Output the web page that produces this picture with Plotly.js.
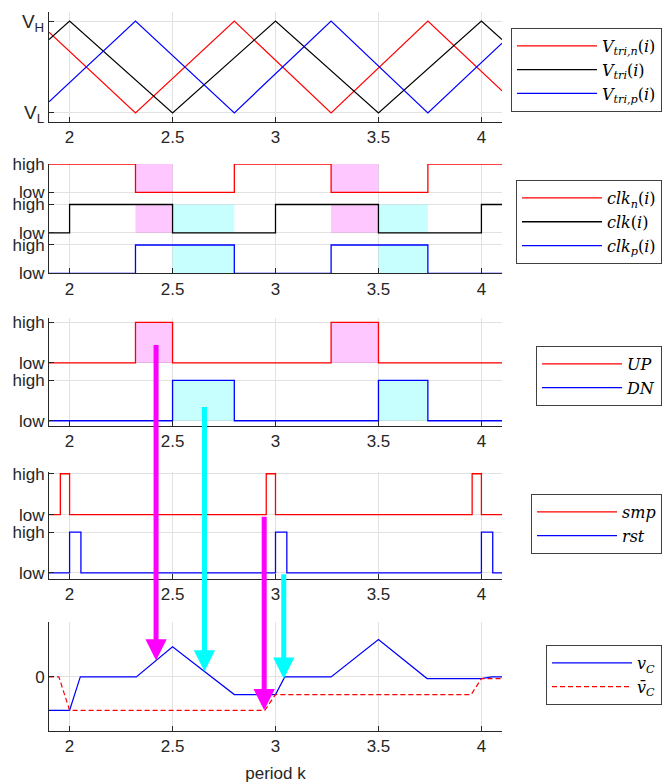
<!DOCTYPE html>
<html><head><meta charset="utf-8">
<script src="https://cdn.plot.ly/plotly-3.0.1.min.js"></script>
<style>html,body{margin:0;padding:0;background:#fff}</style>
</head><body><div id="chart" style="width:665px;height:783px"></div>
<script>
// ---------- data ----------
const xRange = [1.9, 4.1];
const xTickVals = [2, 2.5, 3, 3.5, 4];
const xTickText = ['2', '2.5', '3', '3.5', '4'];
const levelText = ['low', 'high'];
const triTickText = ['V<sub>L</sub>', 'V<sub>H</sub>'];

// panel 1: triangle carriers (0 = V_L, 1 = V_H)
const triX  = [1.9, 2.0, 2.5, 3.0, 3.5, 4.0, 4.1];
const triY  = [0.8, 1, 0, 1, 0, 1, 0.8];
const triNX = [1.9, 2.32, 2.80, 3.27, 3.74, 4.1];
const triNY = [0.88, 0, 1, 0, 1, 0.24];
const triPX = [1.9, 2.32, 2.80, 3.27, 3.74, 4.1];
const triPY = [0.12, 1, 0, 1, 0, 0.76];

// panel 2: clocks (0 = low, 1 = high)
const clkNX = [1.9, 2.32, 2.80, 3.27, 3.74, 4.1];
const clkNY = [1, 0, 1, 0, 1, 1];
const clkX  = [1.9, 2.0, 2.5, 3.0, 3.5, 4.0, 4.1];
const clkY  = [0, 1, 0, 1, 0, 1, 1];
const clkPX = [1.9, 2.32, 2.80, 3.27, 3.74, 4.1];
const clkPY = [0, 1, 0, 1, 0, 0];

// panel 3: UP / DN
const upX = [1.9, 2.32, 2.5, 3.27, 3.5, 4.1];
const upY = [0, 1, 0, 1, 0, 0];
const dnX = [1.9, 2.5, 2.8, 3.5, 3.74, 4.1];
const dnY = [0, 1, 0, 1, 0, 0];

// panel 4: smp / rst
const smpX = [1.9, 1.955, 2.0, 2.955, 3.0, 3.955, 4.0, 4.1];
const smpY = [0, 1, 0, 1, 0, 1, 0, 0];
const rstX = [1.9, 2.0, 2.055, 3.0, 3.055, 4.0, 4.055, 4.1];
const rstY = [0, 1, 0, 1, 0, 1, 0, 0];

// panel 5: capacitor voltage and its sampled value
const vcX = [1.9, 2.0, 2.052, 2.324, 2.5, 2.8, 3.0, 3.045, 3.27, 3.5, 3.736, 4.0, 4.05, 4.1];
const vcY = [-1, -1, 0, 0, 0.9, -0.53, -0.53, 0, 0, 1.12, -0.05, -0.05, 0, 0];
const vbX = [1.9, 1.948, 2.0, 2.948, 3.0, 3.95, 4.0, 4.1];
const vbY = [0, 0, -1, -1, -0.53, -0.53, -0.05, -0.05];

// arrows: x position and the curve they point at
const arrowX = [2.42, 2.655, 2.945, 3.04];
const arrowTarget = ['vc', 'vc', 'vb', 'vc'];

// ---------- drawing ----------
const OFF = 1.43;
const RED = '#FF0000', BLUE = '#0000FF', BLK = '#000000';
const MAG_FILL = 'rgba(255,0,255,0.22)', CYA_FILL = 'rgba(0,255,255,0.22)';
const tickFont = {family: 'Liberation Sans, Arial, sans-serif', size: 17, color: '#262626'};
const legFont = {family: 'DejaVu Serif, serif', size: 16, color: '#000'};

const traces = [];
function line(ax, x, y, color, name, legend, extra) {
  const t = Object.assign({x: x, y: y, xaxis: 'x' + ax, yaxis: 'y' + ax, mode: 'lines',
    line: {color: color, width: 1.2}, name: name, legend: legend, hoverinfo: 'skip'}, extra || {});
  traces.push(t);
}
function band(ax, sx, sy, base, color) {
  traces.push({x: xRange, y: [base, base], xaxis: 'x' + ax, yaxis: 'y' + ax, mode: 'lines',
    line: {width: 0}, showlegend: false, hoverinfo: 'skip'});
  traces.push({x: sx, y: sy.map(v => base + v), xaxis: 'x' + ax, yaxis: 'y' + ax, mode: 'lines',
    line: {width: 0, shape: 'hv'}, fill: 'tonexty', fillcolor: color, showlegend: false, hoverinfo: 'skip'});
}
const off = (arr, o) => arr.map(v => v + o);

// panel 1
line(1, triNX, triNY, RED, '<i>V</i><sub><i>tri,n</i></sub>(<i>i</i>)', 'legend');
line(1, triX, triY, BLK, '<i>V</i><sub><i>tri</i></sub>(<i>i</i>)', 'legend');
line(1, triPX, triPY, BLUE, '<i>V</i><sub><i>tri,p</i></sub>(<i>i</i>)', 'legend');

// panel 2 shading
band(2, upX, upY, 2 * OFF, MAG_FILL);
band(2, upX, upY, OFF, MAG_FILL);
band(2, dnX, dnY, OFF, CYA_FILL);
band(2, dnX, dnY, 0, CYA_FILL);
line(2, clkNX, off(clkNY, 2 * OFF), RED, '<i>clk</i><sub><i>n</i></sub>(<i>i</i>)', 'legend2', {line: {color: RED, width: 1.3, shape: 'hv'}});
line(2, clkX, off(clkY, OFF), BLK, '<i>clk</i>(<i>i</i>)', 'legend2', {line: {color: BLK, width: 1.3, shape: 'hv'}});
line(2, clkPX, clkPY, BLUE, '<i>clk</i><sub><i>p</i></sub>(<i>i</i>)', 'legend2', {line: {color: BLUE, width: 1.3, shape: 'hv'}});

// panel 3
band(3, upX, upY, OFF, MAG_FILL);
band(3, dnX, dnY, 0, CYA_FILL);
line(3, upX, off(upY, OFF), RED, '<i>UP</i>', 'legend3', {line: {color: RED, width: 1.3, shape: 'hv'}});
line(3, dnX, dnY, BLUE, '<i>DN</i>', 'legend3', {line: {color: BLUE, width: 1.3, shape: 'hv'}});

// panel 4
line(4, smpX, off(smpY, OFF), RED, '<i>smp</i>', 'legend4', {line: {color: RED, width: 1.3, shape: 'hv'}});
line(4, rstX, rstY, BLUE, '<i>rst</i>', 'legend4', {line: {color: BLUE, width: 1.3, shape: 'hv'}});

// panel 5
line(5, vcX, vcY, BLUE, '<i>v</i><sub><i>C</i></sub>', 'legend5');
line(5, vbX, vbY, RED, '<i>v\u0304</i><sub><i>C</i></sub>', 'legend5', {line: {color: RED, width: 1.2, dash: '5px,3px'}});

function interp(xs, ys, x) {
  for (let i = 0; i < xs.length - 1; i++) {
    if (x >= xs[i] && x <= xs[i + 1]) {
      if (xs[i + 1] === xs[i]) return ys[i];
      return ys[i] + (ys[i + 1] - ys[i]) * (x - xs[i]) / (xs[i + 1] - xs[i]);
    }
  }
  return ys[ys.length - 1];
}

// ---------- layout ----------
const domains = [[0.8470, 1.0], [0.6366, 0.7886], [0.4242, 0.5744], [0.2120, 0.3606], [0, 0.1520]];
const yRanges = [[-0.1, 1.1], [0, 3.86], [-0.13, 2.54], [-0.14, 2.48], [-1.62, 1.65]];
const yTicks = [
  {v: [0, 1], t: triTickText},
  {v: [0, 1, OFF, OFF + 1, 2 * OFF, 2 * OFF + 1], t: levelText.concat(levelText, levelText)},
  {v: [0, 1, OFF, OFF + 1], t: levelText.concat(levelText)},
  {v: [0, 1, OFF, OFF + 1], t: levelText.concat(levelText)},
  {v: [0, 1.65], t: ['0', '']}
];

const layout = {
  width: 665, height: 783,
  margin: {l: 49, r: 163, t: 12, b: 52, autoexpand: false},
  paper_bgcolor: '#fff', plot_bgcolor: '#fff',
  font: tickFont,
  annotations: []
};
const axCommon = {
  showline: true, linecolor: '#262626', linewidth: 1,
  ticks: 'inside', ticklen: 5, tickwidth: 1, tickcolor: '#262626',
  showgrid: true, gridcolor: '#E2E2E2', gridwidth: 1, zeroline: false,
  tickfont: tickFont, fixedrange: true, automargin: false
};
for (let i = 0; i < 5; i++) {
  const k = i + 1;
  const xa = Object.assign({}, axCommon, {domain: [0, 1], range: xRange, anchor: 'y' + k,
    tickmode: 'array', tickvals: xTickVals, ticktext: xTickText});
  const ya = Object.assign({}, axCommon, {domain: domains[i], range: yRanges[i], anchor: 'x' + k,
    tickmode: 'array', tickvals: yTicks[i].v, ticktext: yTicks[i].t});
  layout['xaxis' + (k === 1 ? '' : k)] = xa;
  layout['yaxis' + (k === 1 ? '' : k)] = ya;
}
layout.yaxis.tickfont = Object.assign({}, tickFont, {size: 19});
layout.xaxis5.title = {text: 'period k', font: {family: 'Liberation Sans, Arial, sans-serif', size: 17, color: '#262626'}, standoff: 12};

const legTops = [0.9778, 0.7663, 0.5355, 0.3296, 0.1196];
['legend', 'legend2', 'legend3', 'legend4', 'legend5'].forEach((name, i) => {
  layout[name] = {x: 1.3532, xanchor: 'right', y: legTops[i], yanchor: 'top',
    bgcolor: '#fff', bordercolor: '#404040', borderwidth: 1, font: legFont,
    itemwidth: 80, tracegroupgap: 0, traceorder: 'normal'};
});

// arrows pointing from the logic signals down to the voltage curve
const arrowTail = [-317, -266, -195, -106];
const arrowColors = ['#FF00FF', '#00FFFF', '#FF00FF', '#00FFFF'];
arrowX.forEach((x, i) => {
  const y = arrowTarget[i] === 'vc' ? interp(vcX, vcY, x) : interp(vbX, vbY, x);
  layout.annotations.push({x: x, y: y, xref: 'x5', yref: 'y5', text: '', showarrow: true,
    ax: 0, ay: arrowTail[i], axref: 'pixel', ayref: 'pixel',
    arrowhead: 2, arrowsize: 0.85, arrowwidth: 5, arrowcolor: arrowColors[i], standoff: 0});
});

Plotly.newPlot('chart', traces, layout, {displayModeBar: false, staticPlot: true});
</script>
</body></html>
